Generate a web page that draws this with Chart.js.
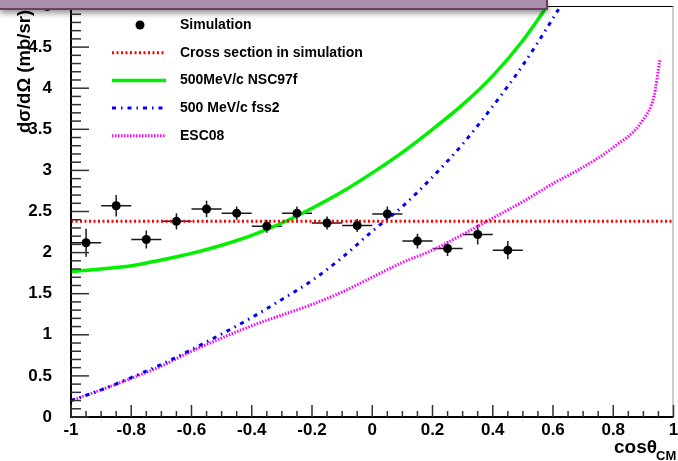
<!DOCTYPE html>
<html>
<head>
<meta charset="utf-8">
<script src="https://cdn.jsdelivr.net/npm/chart.js@4.4.1/dist/chart.umd.min.js"></script>
<style>
  body { margin: 0; background: #fff; }
  #wrap { position: relative; width: 678px; height: 461px; overflow: hidden; }
  #bar {
    position: absolute; left: 0; top: 0; width: 546px; height: 8px;
    background: #aa8fa8;
    border-right: 2px solid #6c3f6a; border-bottom: 2px solid #6c3f6a;
    box-shadow: 0 3px 6px rgba(0,0,0,0.45);
  }
</style>
</head>
<body>
<div id="wrap">
  <canvas id="c" width="678" height="461"></canvas>
  <div id="bar"></div>
</div>
<script>
// ---- values ----
const simX    = [-0.95, -0.85, -0.75, -0.65, -0.55, -0.45, -0.35, -0.25, -0.15, -0.05, 0.05, 0.15, 0.25, 0.35, 0.45];
const simY    = [2.12, 2.57, 2.16, 2.38, 2.53, 2.48, 2.32, 2.48, 2.36, 2.33, 2.47, 2.14, 2.05, 2.22, 2.03];
const simErrY = [0.17, 0.13, 0.11, 0.10, 0.10, 0.08, 0.08, 0.08, 0.08, 0.08, 0.09, 0.09, 0.09, 0.12, 0.11];
const simErrX = 0.05;

const xsecX = [-1, 1];
const xsecY = [2.38, 2.38];

const nscX = [-1, -0.9, -0.8, -0.7, -0.6, -0.5, -0.4, -0.3, -0.2, -0.1, 0, 0.1, 0.2, 0.3, 0.4, 0.5, 0.6];
const nscY = [1.77, 1.80, 1.84, 1.91, 1.99, 2.09, 2.21, 2.36, 2.54, 2.74, 2.97, 3.22, 3.50, 3.80, 4.15, 4.58, 5.10];

const fssX = [-1, -0.9, -0.8, -0.7, -0.6, -0.5, -0.4, -0.3, -0.2, -0.1, 0, 0.1, 0.2, 0.3, 0.4, 0.5, 0.6, 0.7];
const fssY = [0.20, 0.33, 0.48, 0.64, 0.82, 1.01, 1.21, 1.43, 1.66, 1.94, 2.26, 2.56, 2.92, 3.32, 3.78, 4.28, 4.85, 5.45];

const escX = [-1, -0.9, -0.8, -0.7, -0.6, -0.5, -0.4, -0.3, -0.2, -0.1, 0, 0.1, 0.2, 0.3, 0.4, 0.5, 0.6, 0.7, 0.8, 0.9, 0.935, 0.955];
const escY = [0.20, 0.33, 0.47, 0.62, 0.80, 0.96, 1.11, 1.24, 1.37, 1.52, 1.70, 1.88, 2.03, 2.22, 2.42, 2.62, 2.84, 3.04, 3.28, 3.62, 3.90, 4.35];

const xTicks = [-1, -0.8, -0.6, -0.4, -0.2, 0, 0.2, 0.4, 0.6, 0.8, 1];
const yTicks = [0, 0.5, 1, 1.5, 2, 2.5, 3, 3.5, 4, 4.5, 5];

const FONT = '"Liberation Sans", Arial, sans-serif';
const pts = (xs, ys) => xs.map((v, i) => ({ x: v, y: ys[i] }));
const fmt = v => String(Math.round(v * 100) / 100);

// ---- error bars of the simulation points ----
const errorBars = {
  id: 'errorBars',
  beforeDatasetsDraw(chart) {
    const { ctx, scales: { x, y } } = chart;
    ctx.save();
    ctx.strokeStyle = '#1a1a1a';
    ctx.lineWidth = 1.5;
    simX.forEach((v, i) => {
      const px = x.getPixelForValue(v), py = y.getPixelForValue(simY[i]);
      ctx.beginPath();
      ctx.moveTo(x.getPixelForValue(v - simErrX), py);
      ctx.lineTo(x.getPixelForValue(v + simErrX), py);
      ctx.moveTo(px, y.getPixelForValue(simY[i] - simErrY[i]));
      ctx.lineTo(px, y.getPixelForValue(simY[i] + simErrY[i]));
      ctx.stroke();
    });
    ctx.restore();
  }
};

// ---- ROOT style frame, inner ticks, titles, legend ----
const decor = {
  id: 'decor',
  afterDraw(chart) {
    const { ctx, chartArea: a, scales: { x, y } } = chart;
    ctx.save();
    ctx.setLineDash([]);
    // frame
    ctx.fillStyle = '#000';
    ctx.fillRect(a.left, a.top, a.right - a.left, 1);
    ctx.fillStyle = '#999';
    ctx.fillRect(a.right - 1, a.top, 1, a.bottom - a.top);
    ctx.fillStyle = '#000';
    ctx.fillRect(a.left - 1, a.top, 2, a.bottom - a.top + 1);
    ctx.fillRect(a.left - 1, a.bottom - 1, a.right - a.left + 1, 2);

    // inner ticks
    ctx.fillStyle = '#333';
    for (let i = 0; i <= 50; i++) {
      const py = y.getPixelForValue(i / 10);
      const len = i % 5 === 0 ? 18 : 10;
      ctx.fillRect(a.left, py - 0.75, len, 1.5);
    }
    for (let i = 0; i <= 40; i++) {
      const px = x.getPixelForValue(-1 + i * 0.05);
      const len = i % 4 === 0 ? 12 : 6;
      ctx.fillRect(px - 0.75, a.bottom - len, 1.5, len);
    }

    // legend
    ctx.font = 'bold 14px ' + FONT;
    ctx.textBaseline = 'middle';
    ctx.textAlign = 'left';
    chart.data.datasets.forEach((ds, i) => {
      const ly = 25 + i * 27.7;
      if (i === 0) {
        ctx.fillStyle = '#000';
        ctx.beginPath();
        ctx.arc(140, ly, 4.5, 0, Math.PI * 2);
        ctx.fill();
      } else {
        ctx.strokeStyle = ds.borderColor;
        ctx.lineWidth = ds.borderWidth;
        ctx.setLineDash(ds.borderDash || []);
        ctx.beginPath();
        ctx.moveTo(112, ly); ctx.lineTo(166, ly);
        ctx.stroke();
        ctx.setLineDash([]);
      }
      ctx.fillStyle = '#000';
      ctx.fillText(ds.label, 180, ly);
    });

    // axis titles
    ctx.font = 'bold 18.5px ' + FONT;
    ctx.textBaseline = 'alphabetic';
    ctx.save();
    ctx.translate(30, 133);
    ctx.rotate(-Math.PI / 2);
    ctx.fillText('dσ/dΩ (mb/sr)', 0, 0);
    ctx.restore();
    ctx.font = 'bold 19px ' + FONT;
    ctx.fillText('cosθ', 614, 453);
    ctx.font = 'bold 13px ' + FONT;
    ctx.fillText('CM', 656, 460);
    ctx.restore();
  }
};

new Chart(document.getElementById('c'), {
  type: 'scatter',
  data: {
    datasets: [
      {
        label: 'Simulation',
        data: pts(simX, simY),
        pointRadius: 4.5,
        pointBackgroundColor: '#000',
        pointBorderWidth: 0,
        showLine: false
      },
      {
        label: 'Cross section in simulation',
        data: pts(xsecX, xsecY),
        showLine: true, pointRadius: 0,
        borderColor: '#ff0000', borderWidth: 3, borderDash: [2, 2.5]
      },
      {
        label: '500MeV/c NSC97f',
        data: pts(nscX, nscY),
        showLine: true, pointRadius: 0, cubicInterpolationMode: 'monotone',
        borderColor: '#00f000', borderWidth: 3.5
      },
      {
        label: '500 MeV/c fss2',
        data: pts(fssX, fssY),
        showLine: true, pointRadius: 0, cubicInterpolationMode: 'monotone',
        borderColor: '#0000ff', borderWidth: 3, borderDash: [4, 5, 1.5, 5]
      },
      {
        label: 'ESC08',
        data: pts(escX, escY),
        showLine: true, pointRadius: 0, cubicInterpolationMode: 'monotone',
        borderColor: '#ff00ff', borderWidth: 3, borderDash: [1.5, 1.5]
      }
    ]
  },
  options: {
    responsive: false,
    animation: false,
    devicePixelRatio: 1,
    layout: { padding: { top: 6, right: 1, left: 0, bottom: 0 } },
    plugins: { legend: { display: false }, tooltip: { enabled: false } },
    scales: {
      x: {
        type: 'linear', min: -1, max: 1,
        grid: { display: false }, border: { display: false },
        afterBuildTicks: s => { s.ticks = xTicks.map(v => ({ value: v })); },
        afterFit: s => { s.height = 44; s.paddingLeft = 0; s.paddingRight = 0; },
        ticks: { color: '#000', padding: -5, maxRotation: 0, autoSkip: false, callback: fmt,
                 font: { family: FONT, size: 17, weight: 'bold' } }
      },
      y: {
        type: 'linear', min: 0, max: 5,
        grid: { display: false }, border: { display: false },
        afterBuildTicks: s => { s.ticks = yTicks.map(v => ({ value: v })); },
        afterFit: s => { s.width = 71; s.paddingTop = 0; s.paddingBottom = 0; },
        ticks: { color: '#000', padding: 11, autoSkip: false, callback: fmt,
                 font: { family: FONT, size: 17, weight: 'bold' } }
      }
    }
  },
  plugins: [errorBars, decor]
});
</script>
</body>
</html>
